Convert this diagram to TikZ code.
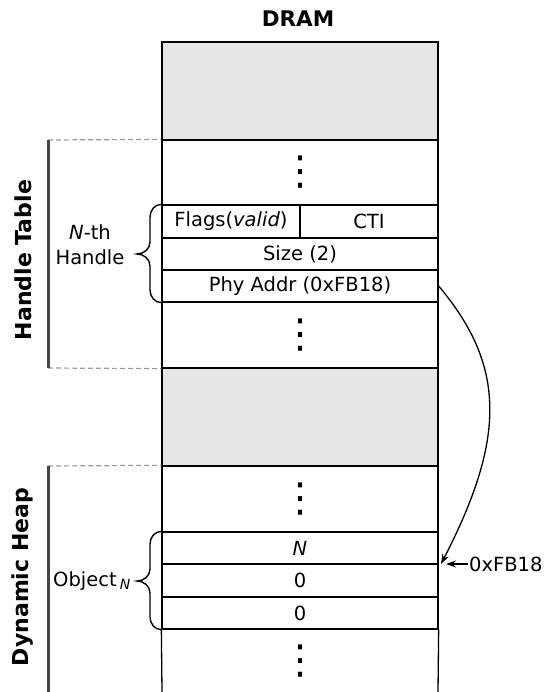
\documentclass[tikz,border=0pt]{standalone}
\usepackage{fontspec}
\setmainfont{DejaVu Sans}
\usetikzlibrary{arrows.meta}
\definecolor{blockgray}{HTML}{E6E6E6}
\definecolor{bargray}{HTML}{444444}
\definecolor{dashgray}{HTML}{9A9A9A}
\newcommand{\vdotsmark}{{\fontsize{40}{40}\selectfont ⋮}}
\begin{document}
\begin{tikzpicture}[x=1pt,y=-1pt,
  txt/.style={font=\fontsize{19.5}{25}\selectfont},
  cell/.style={draw=black, line width=1.3pt, inner sep=0pt, minimum width=276pt, txt},
  halfcell/.style={cell, minimum width=138pt},
  shaded/.style={cell, fill=blockgray},
  dotcell/.style={cell, font=\fontsize{40}{40}\selectfont},
  regionlabel/.style={font=\fontsize{22}{24}\selectfont\bfseries, rotate=90},
  regionbar/.style={draw=bargray, line width=3pt},
  regionedge/.style={draw=dashgray, line width=1.2pt, dash pattern=on 5pt off 3pt},
  brace/.style={draw=black, line width=1.4pt},
  pointer/.style={draw=black, line width=1.3pt, -{Stealth[length=10pt,width=7pt]}}
]
\useasboundingbox (0,0) rectangle (544,692);

% title
\node[font=\fontsize{21.5}{24}\selectfont\bfseries] (title) at (298,19) {DRAM};

% memory column
\node[shaded, minimum height=98pt] (gray1) at (300,91) {};
\node[dotcell, minimum height=65pt] (free1) at (300,172.5) {⋮};
\node[halfcell, minimum height=33pt] (flags) at (231,221.5) {Flags(\textit{valid})};
\node[halfcell, minimum height=33pt] (cti) at (369,221.5) {CTI};
\node[cell, minimum height=32pt] (size) at (300,254) {Size (2)};
\node[cell, minimum height=32pt] (phy) at (300,286) {Phy Addr (0xFB18)};
\node[dotcell, minimum height=66pt] (free2) at (300,335) {⋮};
\node[shaded, minimum height=98pt] (gray2) at (300,417) {};
\node[dotcell, minimum height=66pt] (free3) at (300,499) {⋮};
\node[cell, minimum height=32pt] (objn) at (300,548) {\textit{N}};
\node[cell, minimum height=33pt] (obja) at (300,580.5) {0};
\node[cell, minimum height=32pt] (objb) at (300,613) {0};
\node[font=\fontsize{40}{40}\selectfont, inner sep=0pt] (free4) at (300,661) {⋮};
\draw[line width=1.3pt] (objb.south west) -- (162,692);
\draw[line width=1.3pt] (objb.south east) -- (438,692);

% region markers
\coordinate (httop) at (48,140);
\coordinate (htbot) at (48,368);
\coordinate (dhtop) at (48,466);
\coordinate (dhbot) at (48,692);
\draw[regionedge] (httop) -- (free1.north west);
\draw[regionedge] (htbot) -- (free2.south west);
\draw[regionedge] (dhtop) -- (free3.north west);
\draw[regionbar] (httop) -- (htbot);
\draw[regionbar] (dhtop) -- (dhbot);
\node[regionlabel] (htlabel) at (23,260) {Handle Table};
\node[regionlabel] (dhlabel) at (23,577) {Dynamic Heap};

% braces
\draw[brace] (flags.north west) to[out=180,in=90] (150,217) -- (150,242)
  to[out=-90,in=0] (137,254) to[out=0,in=90] (150,266) -- (150,290)
  to[out=-90,in=180] (phy.south west);
\node[txt, align=center] (handle) at (90,245) {\textit{N}-th\\Handle};

\draw[brace] (objn.north west) to[out=180,in=90] (150,544) -- (150,569)
  to[out=-90,in=0] (137,581) to[out=0,in=90] (150,593) -- (150,617)
  to[out=-90,in=180] (objb.south west);
\node[txt, anchor=east] (object) at (134,581) {Object\,\raisebox{-0.25ex}{\fontsize{14}{14}\selectfont\itshape N}};

% pointer from the handle to the object
\coordinate (target) at (441,564);
\draw[pointer] (phy.east) .. controls (506,366) and (506,438) .. (target);
\node[txt, anchor=west, inner sep=1pt] (addr) at (468,564) {0xFB18};
\draw[pointer] (addr.west) -- (446,564);
\end{tikzpicture}
\end{document}
